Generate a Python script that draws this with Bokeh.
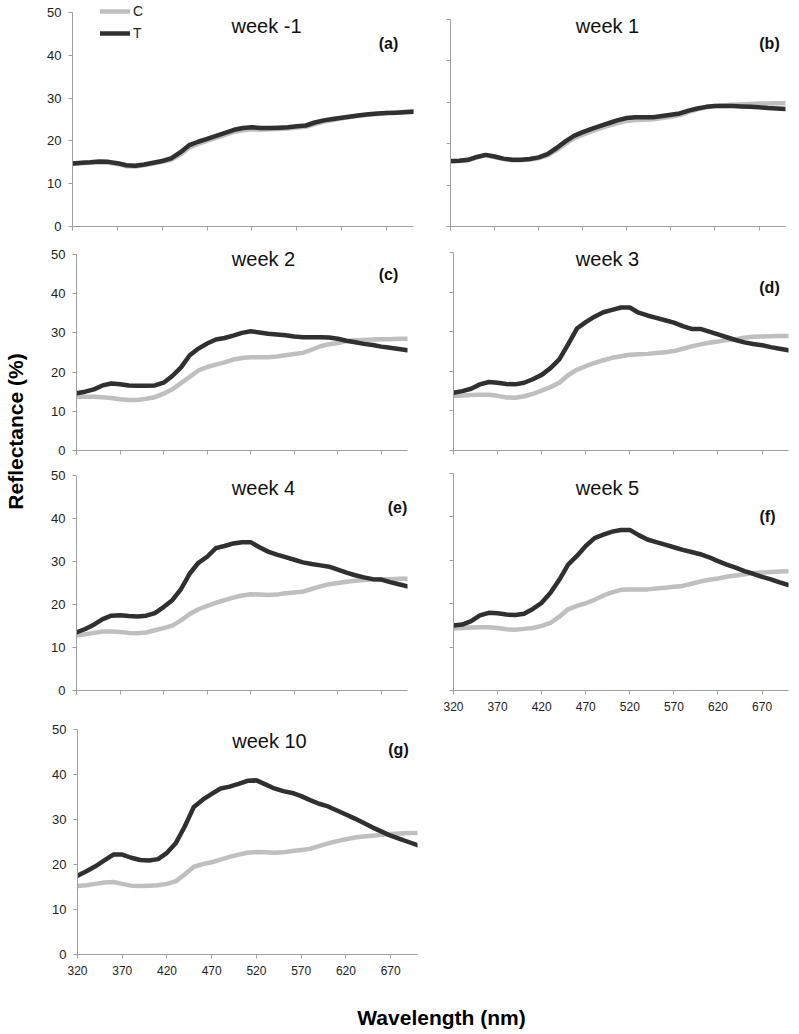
from math import pi
from bokeh.plotting import figure
from bokeh.models import (Range1d, FixedTicker, Label, Legend, LegendItem,
                          CustomJSTickFormatter)
from bokeh.layouts import column, row
from bokeh.embed import file_html
from bokeh.resources import INLINE

# ---------------- data ----------------
wavelength = [320, 330, 340, 350, 360, 370, 380, 390, 400, 410, 420, 430, 440,
              450, 460, 470, 480, 490, 500, 510, 520, 530, 540, 550, 560, 570,
              580, 590, 600, 610, 620, 630, 640, 650, 660, 670, 680, 690, 700]

c_week_m1 = [14.6, 14.8, 14.9, 15.0, 14.9, 14.6, 14.1, 14.0, 14.3, 14.7, 15.1, 15.6, 16.8,
             18.4, 19.3, 20.0, 20.7, 21.4, 22.1, 22.5, 22.7, 22.6, 22.7, 22.8, 22.9, 23.1,
             23.3, 23.9, 24.5, 24.9, 25.3, 25.6, 25.9, 26.1, 26.3, 26.5, 26.6, 26.8, 26.9]
t_week_m1 = [14.7, 14.9, 15.0, 15.2, 15.1, 14.8, 14.3, 14.2, 14.5, 14.9, 15.3, 15.9, 17.3,
             19.0, 19.8, 20.5, 21.2, 21.9, 22.6, 23.0, 23.2, 23.0, 23.0, 23.1, 23.2, 23.4,
             23.6, 24.3, 24.8, 25.1, 25.4, 25.7, 26.0, 26.2, 26.4, 26.5, 26.6, 26.7, 26.8]

c_week_1 = [15.7, 15.8, 16.0, 16.7, 17.2, 16.8, 16.3, 16.0, 16.0, 16.2, 16.5, 17.2, 18.4,
            19.9, 21.3, 22.2, 23.0, 23.7, 24.4, 25.0, 25.5, 25.7, 25.8, 25.9, 26.2, 26.5,
            26.9, 27.7, 28.3, 28.8, 29.1, 29.3, 29.4, 29.5, 29.6, 29.7, 29.7, 29.8, 29.8]
t_week_1 = [15.8, 15.9, 16.1, 16.8, 17.3, 16.9, 16.4, 16.1, 16.1, 16.3, 16.7, 17.5, 18.9,
            20.5, 21.9, 22.8, 23.6, 24.3, 25.0, 25.7, 26.2, 26.4, 26.4, 26.4, 26.7, 27.0,
            27.3, 28.0, 28.5, 28.9, 29.1, 29.1, 29.1, 29.0, 28.9, 28.8, 28.6, 28.5, 28.4]

c_week_2 = [13.7, 13.7, 13.7, 13.6, 13.4, 13.1, 12.9, 12.9, 13.2, 13.6, 14.5, 15.6, 17.2,
            18.8, 20.4, 21.3, 21.9, 22.5, 23.2, 23.6, 23.8, 23.8, 23.8, 24.0, 24.3, 24.6,
            24.9, 25.7, 26.6, 27.1, 27.4, 27.9, 28.1, 28.2, 28.3, 28.4, 28.4, 28.5, 28.5]
t_week_2 = [14.6, 15.0, 15.6, 16.6, 17.1, 16.9, 16.6, 16.5, 16.5, 16.6, 17.3, 19.0, 21.2,
            24.3, 26.0, 27.3, 28.3, 28.7, 29.3, 30.0, 30.4, 30.1, 29.8, 29.6, 29.4, 29.1,
            28.9, 28.9, 28.9, 28.8, 28.5, 28.0, 27.6, 27.2, 26.9, 26.5, 26.2, 25.9, 25.6]

c_week_3 = [13.75, 13.9, 14.0, 14.1, 14.1, 13.8, 13.4, 13.3, 13.7, 14.3, 15.1, 16.0, 17.1,
            19.0, 20.4, 21.3, 22.1, 22.8, 23.4, 23.8, 24.2, 24.3, 24.4, 24.6, 24.8, 25.1,
            25.7, 26.3, 26.8, 27.2, 27.5, 27.9, 28.1, 28.5, 28.75, 28.8, 28.85, 28.9, 28.9]
t_week_3 = [14.6, 15.0, 15.6, 16.7, 17.3, 17.1, 16.8, 16.7, 17.1, 18.0, 19.1, 20.8, 23.0,
            26.8, 30.8, 32.4, 33.8, 34.9, 35.5, 36.1, 36.1, 34.8, 34.1, 33.5, 32.9, 32.3,
            31.4, 30.7, 30.7, 30.0, 29.3, 28.6, 27.9, 27.3, 26.9, 26.6, 26.1, 25.7, 25.3]

c_week_4 = [12.8, 13.1, 13.4, 13.7, 13.7, 13.6, 13.4, 13.3, 13.5, 14.0, 14.5, 15.1, 16.3,
            17.8, 18.9, 19.7, 20.4, 21.0, 21.6, 22.1, 22.4, 22.3, 22.2, 22.3, 22.6, 22.8,
            23.0, 23.6, 24.2, 24.7, 25.0, 25.3, 25.5, 25.7, 25.8, 25.9, 25.9, 26.0, 26.0]
t_week_4 = [13.5, 14.3, 15.3, 16.6, 17.4, 17.5, 17.3, 17.2, 17.4, 18.0, 19.4, 21.0, 23.6,
            27.2, 29.7, 31.1, 33.1, 33.6, 34.2, 34.5, 34.5, 33.3, 32.3, 31.6, 31.0, 30.4,
            29.8, 29.4, 29.1, 28.8, 28.1, 27.4, 26.8, 26.3, 25.9, 25.8, 25.2, 24.7, 24.2]

c_week_5 = [14.3, 14.4, 14.5, 14.6, 14.6, 14.4, 14.1, 14.0, 14.2, 14.4, 14.9, 15.6, 17.0,
            18.7, 19.5, 20.1, 20.9, 21.9, 22.6, 23.2, 23.3, 23.3, 23.3, 23.5, 23.7, 23.9,
            24.1, 24.6, 25.1, 25.5, 25.8, 26.2, 26.5, 26.8, 27.1, 27.2, 27.3, 27.4, 27.5]
t_week_5 = [15.0, 15.2, 16.0, 17.3, 17.9, 17.8, 17.5, 17.4, 17.7, 18.8, 20.2, 22.5, 25.5,
            29.0, 31.0, 33.3, 35.1, 35.9, 36.6, 37.0, 37.0, 35.8, 34.8, 34.2, 33.6, 33.0,
            32.4, 31.9, 31.4, 30.7, 29.8, 29.0, 28.3, 27.5, 26.9, 26.2, 25.6, 24.9, 24.3]

c_week_10 = [15.2, 15.4, 15.7, 16.0, 16.1, 15.7, 15.3, 15.2, 15.3, 15.4, 15.7, 16.3, 17.8,
             19.5, 20.1, 20.5, 21.1, 21.7, 22.2, 22.6, 22.8, 22.7, 22.6, 22.7, 23.0, 23.2,
             23.5, 24.1, 24.7, 25.2, 25.6, 26.0, 26.2, 26.4, 26.6, 26.8, 26.9, 27.0, 27.0]
t_week_10 = [17.5, 18.5, 19.6, 20.9, 22.2, 22.2, 21.5, 21.0, 20.9, 21.2, 22.6, 24.8, 28.5,
             32.8, 34.4, 35.7, 36.9, 37.3, 37.9, 38.6, 38.7, 37.8, 36.9, 36.3, 35.9, 35.2,
             34.3, 33.5, 32.9, 32.0, 31.1, 30.2, 29.2, 28.2, 27.3, 26.4, 25.7, 25.0, 24.3]

titles = ["week -1", "week 1", "week 2", "week 3", "week 4", "week 5", "week 10"]
tags = ["(a)", "(b)", "(c)", "(d)", "(e)", "(f)", "(g)"]
series_c = [c_week_m1, c_week_1, c_week_2, c_week_3, c_week_4, c_week_5, c_week_10]
series_t = [t_week_m1, t_week_1, t_week_2, t_week_3, t_week_4, t_week_5, t_week_10]
legend_labels = ["C", "T"]
x_ticks = [320, 370, 420, 470, 520, 570, 620, 670]
y_ticks = [0, 10, 20, 30, 40, 50]
x_label = "Wavelength (nm)"
y_label = "Reflectance (%)"

# ---------------- style / layout ----------------
FONT = "Liberation Sans"
C_COLOR = "#bfbfbf"
T_COLOR = "#303030"
AXIS_COLOR = "#a0a0a0"
TEXT_COLOR = "#222222"

# canvas origin (ox, oy) and size (w, h) in picture pixels; frame left/right
# (x0, x1); pixel rows of the value 50 and of the value 0 (y50, y0);
# title / tag positions; whether x / y tick labels are shown
geoms = [
    dict(ox=0, oy=0, w=430, h=244, x0=72, x1=413, y50=12, y0=226,
         title=(266, 25), tag=(388, 43), xl=False, yl=True),
    dict(ox=430, oy=0, w=367, h=244, x0=450, x1=785, y50=19, y0=226,
         title=(607, 25), tag=(769, 43), xl=False, yl=False),
    dict(ox=48, oy=244, w=382, h=222, x0=76, x1=407, y50=254, y0=450,
         title=(263, 258), tag=(388, 274), xl=False, yl=True),
    dict(ox=430, oy=244, w=367, h=222, x0=453, x1=788, y50=252, y0=450,
         title=(607, 258), tag=(769, 287), xl=False, yl=False),
    dict(ox=48, oy=466, w=382, h=255, x0=76, x1=407, y50=475, y0=690,
         title=(263, 487), tag=(397, 507), xl=False, yl=True),
    dict(ox=430, oy=466, w=367, h=255, x0=453, x1=788, y50=473, y0=690,
         title=(607, 487), tag=(767, 516), xl=True, yl=False),
    dict(ox=0, oy=721, w=797, h=269, x0=77, x1=417, y50=729, y0=954,
         title=(269, 740), tag=(398, 749), xl=True, yl=True),
]

blank = CustomJSTickFormatter(code="return ''")


def make_panel(i):
    g = geoms[i]
    y_top = 50.0 * (g["y0"] - g["oy"]) / (g["y0"] - g["y50"])
    p = figure(width=g["w"], height=g["h"], x_range=Range1d(320, 700),
               y_range=Range1d(0, y_top), output_backend="svg",
               toolbar_location=None,
               min_border_left=g["x0"] - g["ox"],
               min_border_right=g["ox"] + g["w"] - g["x1"],
               min_border_top=0,
               min_border_bottom=g["oy"] + g["h"] - g["y0"])
    p.outline_line_color = None
    p.grid.visible = False
    for ax in (p.xaxis[0], p.yaxis[0]):
        ax.axis_line_color = AXIS_COLOR
        ax.axis_line_width = 1
        ax.major_tick_line_color = AXIS_COLOR
        ax.major_tick_in = 0
        ax.major_tick_out = 4
        ax.minor_tick_line_color = None
        ax.major_label_text_font = FONT
        ax.major_label_text_color = TEXT_COLOR
    p.xaxis.ticker = FixedTicker(ticks=x_ticks)
    p.yaxis.ticker = FixedTicker(ticks=y_ticks)
    p.yaxis.bounds = (0, 50)
    if g["xl"]:
        p.xaxis.major_label_text_font_size = "12px"
        p.xaxis.major_label_standoff = 7
    else:
        p.xaxis.formatter = blank
        p.xaxis.major_label_text_font_size = "0px"
        p.xaxis.major_label_standoff = 0
    if g["yl"]:
        p.yaxis.major_label_text_font_size = "13px"
        p.yaxis.major_label_standoff = 7
    else:
        p.yaxis.formatter = blank
        p.yaxis.major_label_text_font_size = "0px"
        p.yaxis.major_label_standoff = 0

    rc = p.line(wavelength, series_c[i], line_color=C_COLOR, line_width=4.5,
                line_join="round", line_cap="round")
    rt = p.line(wavelength, series_t[i], line_color=T_COLOR, line_width=4.5,
                line_join="round", line_cap="round")

    fl, fb = g["x0"], g["y0"]
    tx, ty = g["title"]
    p.add_layout(Label(x=tx - fl, y=fb - ty, x_units="screen",
                       y_units="screen", text=titles[i], text_align="center",
                       text_baseline="middle", text_font=FONT,
                       text_font_size="20px", text_color="#111111"))
    gx, gy = g["tag"]
    p.add_layout(Label(x=gx - fl, y=fb - gy, x_units="screen",
                       y_units="screen", text=tags[i], text_align="center",
                       text_baseline="middle", text_font=FONT,
                       text_font_size="16px", text_font_style="bold",
                       text_color="#111111"))
    return p, rc, rt, fl, fb


panels = [make_panel(i) for i in range(7)]

# legend in panel (a)
pa, rc, rt, fl, fb = panels[0]
legend = Legend(items=[LegendItem(label=legend_labels[0], renderers=[rc]),
                       LegendItem(label=legend_labels[1], renderers=[rt])],
                location=(100 - fl, fb - 44), glyph_width=30, glyph_height=22,
                label_height=22, spacing=0, padding=0, margin=0,
                label_standoff=3, label_text_font=FONT,
                label_text_font_size="14px", label_text_color=TEXT_COLOR,
                border_line_color=None, background_fill_alpha=0)
pa.add_layout(legend)


def text_strip(w, h, text, x, y, angle):
    f = figure(width=w, height=h, x_range=Range1d(0, 1), y_range=Range1d(0, 1),
               output_backend="svg", toolbar_location=None, min_border=0,
               x_axis_location=None, y_axis_location=None)
    f.outline_line_color = None
    f.grid.visible = False
    f.add_layout(Label(x=x, y=y, x_units="screen", y_units="screen", text=text,
                       angle=angle, text_align="center", text_baseline="middle",
                       text_font=FONT, text_font_size="21px",
                       text_font_style="bold", text_color="#000000"))
    return f


# y-axis title strip: picture x 0..48, y 244..721 ; text centre (15, 431)
ylab = text_strip(48, 477, y_label, 15, 721 - 431, pi / 2)
# x-axis title strip: picture y 990..1030 ; text centre (441, 1017)
xlab = text_strip(797, 40, x_label, 441, 1030 - 1017, 0)

layout = column(
    row(panels[0][0], panels[1][0]),
    row(ylab, column(row(panels[2][0], panels[3][0]),
                     row(panels[4][0], panels[5][0]))),
    row(panels[6][0]),
    row(xlab),
)

open("out.html", "w").write(file_html(layout, INLINE))
